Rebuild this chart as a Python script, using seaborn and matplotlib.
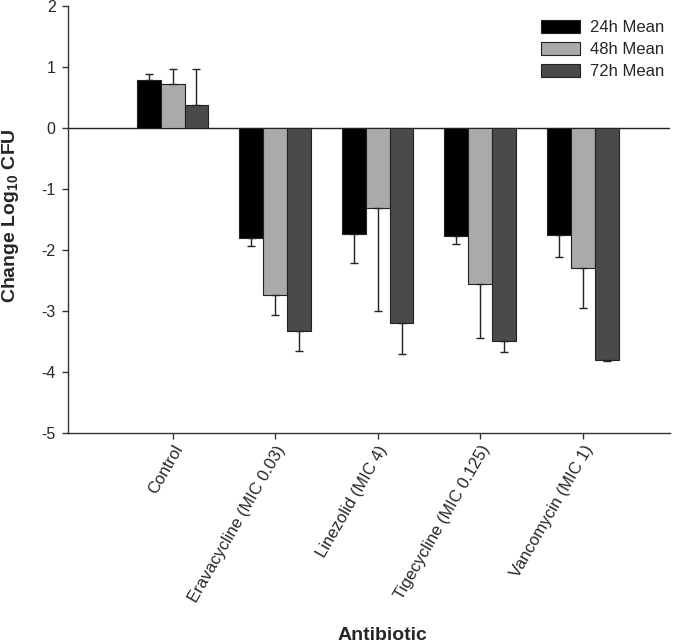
import numpy as np
import pandas as pd
import matplotlib
matplotlib.use("Agg")
import matplotlib.pyplot as plt
import seaborn as sns

categories = ["Control", "Eravacycline (MIC 0.03)", "Linezolid (MIC 4)",
              "Tigecycline (MIC 0.125)", "Vancomycin (MIC 1)"]
series = ["24h Mean", "48h Mean", "72h Mean"]
mean_24h = [0.79, -1.80, -1.74, -1.77, -1.75]
mean_48h = [0.72, -2.73, -1.31, -2.56, -2.30]
mean_72h = [0.38, -3.32, -3.19, -3.49, -3.80]
sd_24h = [0.09, 0.13, 0.48, 0.14, 0.36]
sd_48h = [0.25, 0.33, 1.69, 0.88, 0.65]
sd_72h = [0.58, 0.34, 0.52, 0.19, 0.02]
colors = ["#000000", "#aaaaaa", "#4a4a4a"]

sns.set_style("ticks")
plt.rcParams['font.family'] = ['Liberation Sans', 'DejaVu Sans']
plt.rcParams['mathtext.fontset'] = 'custom'
plt.rcParams['mathtext.rm'] = 'Liberation Sans'
plt.rcParams['mathtext.bf'] = 'Liberation Sans:bold'
plt.rcParams['mathtext.it'] = 'Liberation Sans:italic'
plt.rcParams['axes.unicode_minus'] = False

means = [mean_24h, mean_48h, mean_72h]
sds = [sd_24h, sd_48h, sd_72h]
rows = []
for s, m in zip(series, means):
    for c, v in zip(categories, m):
        rows.append({"Antibiotic": c, "Series": s, "Value": v})
df = pd.DataFrame(rows)

fig = plt.figure(figsize=(6.8, 6.43), dpi=100)
ax = fig.add_axes([0.1, 0.3266, 0.885, 0.6641])

sns.barplot(data=df, x="Antibiotic", y="Value", hue="Series", order=categories,
            hue_order=series, palette=colors, width=0.7, errorbar=None,
            edgecolor="#222222", linewidth=0.8, saturation=1, ax=ax)

for cont, sd in zip(ax.containers, sds):
    for bar, e in zip(cont, sd):
        x = bar.get_x() + bar.get_width() / 2
        h = bar.get_height()
        if h >= 0:
            yerr = [[0], [e]]
        else:
            yerr = [[e], [0]]
        ax.errorbar(x, h, yerr=yerr, fmt="none", ecolor="#222222",
                    elinewidth=1, capsize=3, capthick=1)

ax.axhline(0, color="#222222", lw=1, zorder=0.5)
ax.set_ylim(-5, 2)
ax.set_yticks(range(-5, 3))
ax.set_xlim(-1.02, 4.85)

for side in ["top", "right"]:
    ax.spines[side].set_visible(False)
for side in ["left", "bottom"]:
    ax.spines[side].set_color("#333333")
    ax.spines[side].set_linewidth(1)

ax.tick_params(axis="both", direction="out", length=4, width=1,
               color="#333333")
ax.tick_params(axis="y", labelsize=11.5, pad=5)
ax.tick_params(axis="x", labelsize=12, pad=3)
plt.setp(ax.get_xticklabels(), rotation=60, ha="right", rotation_mode="anchor")

ax.set_ylabel(r"Change Log$_\mathbf{10}$ CFU", fontsize=14, fontweight="bold",
              va="center")
ax.set_xlabel("Antibiotic", fontsize=14, fontweight="bold", va="center")
ax.yaxis.set_label_coords(11 / 680, 1 - 216 / 643, transform=fig.transFigure)
ax.xaxis.set_label_coords(382 / 680, 1 - 636 / 643, transform=fig.transFigure)

leg = ax.legend(loc="upper left", frameon=False, fontsize=12,
                handlelength=2.35, handleheight=0.8, handletextpad=0.6,
                labelspacing=0.42, borderpad=0, borderaxespad=0,
                bbox_to_anchor=(541 / 680, 1 - 20 / 643),
                bbox_transform=fig.transFigure)

fig.savefig("out.png", dpi=100)
